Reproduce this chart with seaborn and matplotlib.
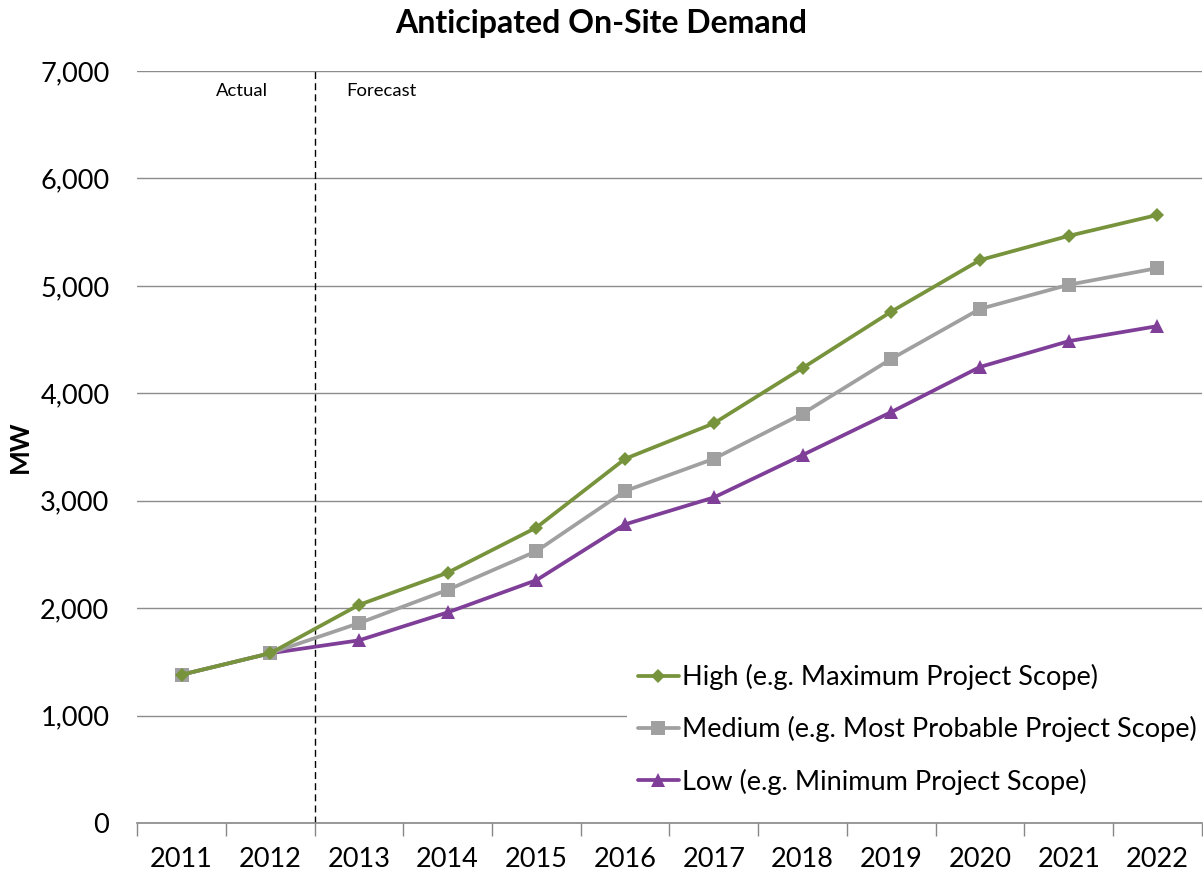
import numpy as np
import pandas as pd
import matplotlib
matplotlib.use("Agg")
import matplotlib.pyplot as plt
import seaborn as sns

# data
years = ['2011', '2012', '2013', '2014', '2015', '2016', '2017', '2018', '2019', '2020', '2021', '2022']
high = [1380, 1580, 2030, 2330, 2750, 3390, 3720, 4235, 4760, 5240, 5465, 5660]
medium = [1380, 1580, 1860, 2170, 2530, 3090, 3390, 3810, 4320, 4785, 5010, 5165]
low = [1380, 1580, 1700, 1960, 2260, 2780, 3030, 3425, 3825, 4245, 4485, 4625]
series_names = ['High (e.g. Maximum Project Scope)',
                'Medium (e.g. Most Probable Project Scope)',
                'Low (e.g. Minimum Project Scope)']
y_ticks = [0, 1000, 2000, 3000, 4000, 5000, 6000, 7000]

df = pd.DataFrame({
    'pos': list(range(len(years))) * 3,
    'MW': high + medium + low,
    'Scenario': [series_names[0]] * len(years) + [series_names[1]] * len(years) + [series_names[2]] * len(years),
})

sns.set_theme(style='white')
plt.rcParams['font.family'] = ['Lato', 'DejaVu Sans']
plt.rcParams['text.color'] = 'black'

fig = plt.figure(figsize=(12.03, 8.73), dpi=100)
ax = fig.add_axes([0.114, 0.0573, 0.885, 0.8614])

palette = {series_names[0]: '#77933C', series_names[1]: '#A0A0A0', series_names[2]: '#7F3F98'}
markers = {series_names[0]: 'D', series_names[1]: 's', series_names[2]: '^'}
sizes = {series_names[0]: 7.5, series_names[1]: 10.5, series_names[2]: 10.5}

# draw low first so high sits on top like the original
for name in series_names[::-1]:
    sub = df[df['Scenario'] == name]
    sns.lineplot(data=sub, x='pos', y='MW', ax=ax, color=palette[name], marker=markers[name],
                 markersize=sizes[name], markeredgewidth=0, linewidth=2.7, label=name, zorder=3)

ax.set_xlim(-0.5, len(years) - 0.5)
ax.set_ylim(0, 7000)
ax.set_yticks(y_ticks)
ax.set_yticklabels([f'{v:,}' for v in y_ticks])
ax.set_xticks(range(len(years)))
ax.set_xticklabels(years)
ax.set_xticks(np.arange(-0.5, len(years), 1.0), minor=True)
ax.tick_params(axis='both', which='major', labelsize=19.5, length=0, labelcolor='black')
ax.tick_params(axis='y', pad=20)
ax.tick_params(axis='x', which='major', pad=17)
ax.tick_params(axis='x', which='minor', length=9, width=1, color='#888888', bottom=True)

ax.grid(axis='y', color='#8C8C8C', linewidth=1)
ax.set_axisbelow(True)
for s in ['top', 'right', 'left']:
    ax.spines[s].set_visible(False)
ax.spines['bottom'].set_color('#888888')
ax.spines['bottom'].set_linewidth(1.2)

ax.axvline(1.5, color='black', linestyle=(0, (5, 3)), linewidth=1)
ax.text(0.68, 6815, 'Actual', fontsize=13.3, ha='center', va='center', color='black')
ax.text(2.25, 6815, 'Forecast', fontsize=13.3, ha='center', va='center', color='black')

ax.set_xlabel('')
ax.set_ylabel('MW', fontsize=19, fontweight='bold', labelpad=6, color='black')
fig.suptitle('Anticipated On-Site Demand', fontsize=23, fontweight='bold', y=0.99, x=0.5, color='black')

handles, labels = ax.get_legend_handles_labels()
order = [labels.index(n) for n in series_names]
leg = ax.legend([handles[i] for i in order], [labels[i] for i in order],
                loc='lower right', bbox_to_anchor=(1.018, 0.005), fontsize=19.5,
                frameon=True, facecolor='white', edgecolor='none', framealpha=1,
                handlelength=1.5, handletextpad=0.12, labelspacing=0.97, borderpad=0.4,
                labelcolor='black')
leg.set_zorder(5)

fig.savefig('out.png', dpi=100)
